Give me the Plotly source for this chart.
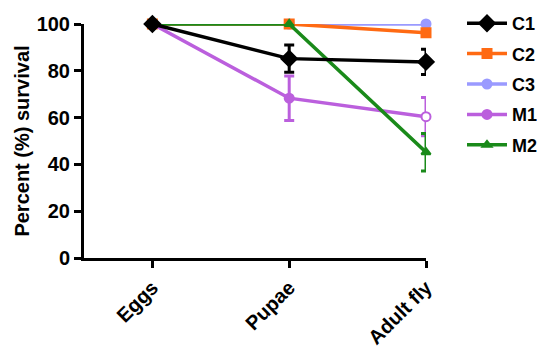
import plotly.graph_objects as go

stages = ["Eggs", "Pupae", "Adult fly"]
series_names = ["C1", "C2", "C3", "M1", "M2"]
c1 = [100, 85.2, 83.8]
c1_err = [0, 5.8, 5.4]
c2 = [100, 100, 96.3]
c2_err = [0, 0, 0]
c3 = [100, 100, 100]
c3_err = [0, 0, 0]
m1 = [100, 68.3, 60.4]
m1_err = [0, 9.5, 8.2]
m2 = [100, 100, 45.2]
m2_err = [0, 0, 8.0]
y_ticks = [0, 20, 40, 60, 80, 100]

values = [c1, c2, c3, m1, m2]
errors = [c1_err, c2_err, c3_err, m1_err, m2_err]
colors = ["#000000", "#ff6a13", "#9a9aff", "#bb5fdd", "#1a8a1a"]
symbols = ["diamond", "square", "circle", "circle", "triangle-up"]
sizes = [12, 9, 9, 9, 8]
fills = [None, None, None, ["#bb5fdd", "#bb5fdd", "#ffffff"], None]
draw_order = [2, 1, 3, 4, 0]

fig = go.Figure()
for i in draw_order:
    mc = fills[i] if fills[i] else colors[i]
    fig.add_trace(go.Scatter(
        x=stages, y=values[i], name=series_names[i],
        mode="lines+markers", legendgroup=series_names[i], legendrank=i + 1,
        line=dict(color=colors[i], width=3.5),
        marker=dict(symbol=symbols[i], size=sizes[i], color=mc,
                    line=dict(color=colors[i], width=2)),
        error_y=dict(type="data", array=errors[i], visible=True,
                     color=colors[i], thickness=3, width=5),
        cliponaxis=False,
    ))

fig.update_layout(
    width=537, height=351,
    margin=dict(l=84, r=111, t=24, b=93, autoexpand=False),
    plot_bgcolor="white", paper_bgcolor="white",
    font=dict(family="Liberation Sans, Arial", size=18, color="black"),
    showlegend=True,
    legend=dict(x=462 / 537, xanchor="left", xref="container",
                y=1 - 5 / 351, yanchor="top", yref="container",
                font=dict(size=18, family="Liberation Sans, Arial", weight="bold"),
                tracegroupgap=4, itemwidth=40, bgcolor="rgba(0,0,0,0)"),
)
fig.update_xaxes(
    type="category", range=[-0.5, 2], automargin=False,
    showline=True, linecolor="black", linewidth=3,
    ticks="outside", ticklen=7, tickwidth=3, tickcolor="black",
    tickangle=-45, showgrid=False, zeroline=False,
    tickfont=dict(size=20, weight="bold"),
)
fig.update_yaxes(
    range=[0, 100], tickvals=y_ticks, automargin=False,
    showline=True, linecolor="black", linewidth=3,
    ticks="outside", ticklen=7, tickwidth=3, tickcolor="black",
    showgrid=False, zeroline=False,
    tickfont=dict(size=20, weight="bold"),
    title=dict(text="Percent (%) survival", font=dict(size=20, weight="bold"), standoff=2),
)
fig.write_html("out.html")
